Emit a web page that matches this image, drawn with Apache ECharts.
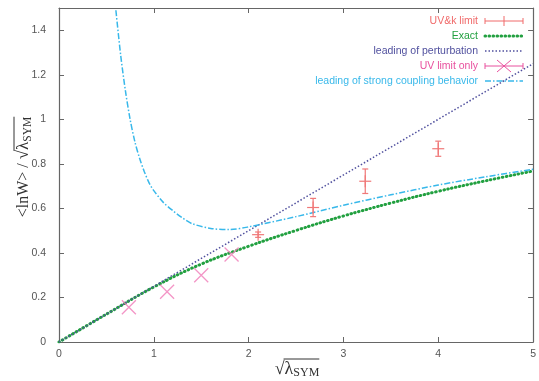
<!DOCTYPE html>
<html lang="en">
<head>
    <meta charset="UTF-8">
    <script src="https://cdn.jsdelivr.net/npm/echarts@6/dist/echarts.min.js"></script>
    <title>Wilson loop</title>
    <style>
        html, body { margin: 0; padding: 0; background: #fff; }
        #chart { width: 539px; height: 381px; }
    </style>
</head>
<body>
<div id="chart"></div>
<script type="text/javascript">
    // x axis values are sqrt(lambda_SYM)
    var xTicks = [0, 1, 2, 3, 4, 5];
    var yTicks = [0, 0.2, 0.4, 0.6, 0.8, 1, 1.2, 1.4];

    // UV&k limit (points with y error bars)
    var uvkX = [2.10, 2.68, 3.23, 4.00];
    var uvkY = [0.482, 0.604, 0.722, 0.868];
    var uvkErr = [0.012, 0.041, 0.055, 0.034];

    // UV limit only
    var uvX = [0.737, 1.14, 1.50, 1.82];
    var uvY = [0.156, 0.226, 0.300, 0.393];

    // Exact
    var exactX = [0, 0.5, 1, 1.5, 2, 2.5, 3, 3.5, 4, 4.5, 5];
    var exactY = [0, 0.125, 0.247, 0.350, 0.430, 0.501, 0.566, 0.624, 0.677, 0.724, 0.768];

    // leading of perturbation
    var pertX = [0, 5];
    var pertY = [0, 1.25];

    // leading of strong coupling behavior
    var strongX = [0.6, 0.65, 0.7, 0.75, 0.8, 0.85, 0.9, 0.95, 1.0, 1.1, 1.2, 1.3, 1.4, 1.6, 1.8, 2.0, 2.5, 3, 3.5, 4, 4.5, 5];
    var strongY = [1.49, 1.29, 1.13, 1.0, 0.90, 0.825, 0.765, 0.715, 0.68, 0.627, 0.59, 0.558, 0.532, 0.510, 0.505, 0.517, 0.563, 0.614, 0.661, 0.705, 0.742, 0.776];

    var sans = '"Liberation Sans", Arial, sans-serif';
    var serif = '"Liberation Serif", "Times New Roman", serif';

    function zip(xs, ys) {
        var d = [];
        for (var i = 0; i < xs.length; i++) d.push([xs[i], ys[i]]);
        return d;
    }

    var ctx = document.createElement('canvas').getContext('2d');
    function textWidth(t, size) {
        ctx.font = size + 'px "Liberation Serif"';
        return ctx.measureText(t).width;
    }

    // pieces of a math title laid out left to right, centred on 0
    function titleParts(parts, barFrom, barY) {
        var els = [], x = 0, barStart = 0;
        var total = 0;
        parts.forEach(function (p) { total += textWidth(p.t, p.size); });
        x = -total / 2;
        parts.forEach(function (p, i) {
            if (i === barFrom) barStart = x;
            els.push({
                type: 'text', x: x, y: p.dy,
                style: {
                    text: p.t, fontSize: p.size, fontFamily: serif, fill: '#333',
                    textAlign: 'left', textVerticalAlign: 'middle', align: 'left', verticalAlign: 'middle'
                }
            });
            x += textWidth(p.t, p.size);
        });
        els.push({
            type: 'line', shape: {x1: barStart - 1, y1: barY, x2: x, y2: barY},
            style: {stroke: '#333', lineWidth: 1}
        });
        return els;
    }

    var xTitle = titleParts([
        {t: '\u221A', size: 18, dy: 0},
        {t: '\u03BB', size: 18, dy: 0},
        {t: 'SYM', size: 12, dy: 4}
    ], 1, -10);

    var yTitle = titleParts([
        {t: '<lnW> / ', size: 16, dy: 0},
        {t: '\u221A', size: 17, dy: 0},
        {t: '\u03BB', size: 17, dy: 0},
        {t: 'SYM', size: 11.5, dy: 4}
    ], 2, -10);

    // legend rows (right aligned text, sample on the right)
    var legendRows = [
        {name: 'UV&k limit', color: '#f06a6a', y: 21},
        {name: 'Exact', color: '#22a040', y: 36},
        {name: 'leading of perturbation', color: '#50509e', y: 51},
        {name: 'UV limit only', color: '#e8509e', y: 66},
        {name: 'leading of strong coupling behavior', color: '#38b8ea', y: 81}
    ];
    var lx1 = 485, lx2 = 523, lxm = 504, ltext = 478;
    var legendEls = [];
    legendRows.forEach(function (r) {
        legendEls.push({
            type: 'text', x: ltext, y: r.y,
            style: {
                text: r.name, fontSize: 10.5, fontFamily: sans, fill: r.color,
                textAlign: 'right', textVerticalAlign: 'middle', align: 'right', verticalAlign: 'middle'
            }
        });
    });
    function seg(x1, y1, x2, y2, st) {
        return {type: 'line', shape: {x1: x1, y1: y1, x2: x2, y2: y2}, style: st};
    }
    var r0 = legendRows[0], r1 = legendRows[1], r2 = legendRows[2], r3 = legendRows[3], r4 = legendRows[4];
    var st0 = {stroke: r0.color, lineWidth: 1};
    legendEls.push(seg(lx1, r0.y, lx2, r0.y, st0), seg(lx1, r0.y - 3, lx1, r0.y + 3, st0),
        seg(lx2, r0.y - 3, lx2, r0.y + 3, st0), seg(lxm, r0.y - 5, lxm, r0.y + 5, st0));
    legendEls.push(seg(lx1, r1.y, lx2, r1.y, {stroke: r1.color, lineWidth: 3, lineDash: [0.6, 3.4], lineCap: 'round'}));
    legendEls.push(seg(lx1, r2.y, lx2, r2.y, {stroke: r2.color, lineWidth: 1.5, lineDash: [1.5, 2]}));
    var st3 = {stroke: r3.color, lineWidth: 1};
    legendEls.push(seg(lx1, r3.y, lx2, r3.y, st3), seg(lx1, r3.y - 3, lx1, r3.y + 3, st3),
        seg(lx2, r3.y - 3, lx2, r3.y + 3, st3),
        seg(lxm - 7, r3.y - 6, lxm + 7, r3.y + 6, st3), seg(lxm - 7, r3.y + 6, lxm + 7, r3.y - 6, st3));
    legendEls.push(seg(lx1, r4.y, lx2, r4.y, {stroke: r4.color, lineWidth: 1.5, lineDash: [6, 2, 1.5, 2]}));

    var axisColor = '#666';
    function axisBase(pos, showLabel) {
        return {
            type: 'value',
            position: pos,
            axisLine: {show: true, onZero: false, lineStyle: {color: axisColor, width: 1.2}},
            axisTick: {show: true, inside: true, length: 5, lineStyle: {color: axisColor, width: 1}},
            axisLabel: {show: showLabel, color: '#555', fontSize: 10.5, fontFamily: sans},
            splitLine: {show: false}
        };
    }
    var xBottom = axisBase('bottom', true);
    xBottom.min = xTicks[0]; xBottom.max = xTicks[xTicks.length - 1]; xBottom.interval = 1;
    xBottom.axisLabel.margin = 7;
    var xTop = axisBase('top', false);
    xTop.min = xBottom.min; xTop.max = xBottom.max; xTop.interval = 1;
    var yLeft = axisBase('left', true);
    yLeft.min = 0; yLeft.max = 1.5; yLeft.interval = 0.2;
    yLeft.axisLabel.margin = 13;
    yLeft.axisLabel.formatter = function (v) {
        return yTicks.indexOf(Math.round(v * 10) / 10) >= 0 ? String(Math.round(v * 10) / 10) : '';
    };
    var yRight = axisBase('right', false);
    yRight.min = 0; yRight.max = 1.5; yRight.interval = 0.2;

    var uvkData = [];
    for (var i = 0; i < uvkX.length; i++) uvkData.push([uvkX[i], uvkY[i], uvkErr[i]]);

    var myChart = echarts.init(document.getElementById('chart'), null, {renderer: 'canvas'});
    var option = {
        animation: false,
        grid: {left: 59, right: 5, top: 8, bottom: 39, containLabel: false},
        xAxis: [xBottom, xTop],
        yAxis: [yLeft, yRight],
        series: [
            {
                name: 'UV&k limit',
                type: 'custom',
                data: uvkData,
                renderItem: function (params, api) {
                    var x = api.value(0), y = api.value(1), e = api.value(2);
                    var c = api.coord([x, y]);
                    var hi = api.coord([x, y + e]);
                    var lo = api.coord([x, y - e]);
                    var st = {stroke: '#f07878', lineWidth: 1.2, fill: null};
                    var cap = 3, half = 6;
                    return {
                        type: 'group',
                        children: [
                            {type: 'line', shape: {x1: c[0], y1: hi[1], x2: c[0], y2: lo[1]}, style: st},
                            {type: 'line', shape: {x1: c[0] - cap, y1: hi[1], x2: c[0] + cap, y2: hi[1]}, style: st},
                            {type: 'line', shape: {x1: c[0] - cap, y1: lo[1], x2: c[0] + cap, y2: lo[1]}, style: st},
                            {type: 'line', shape: {x1: c[0] - half, y1: c[1], x2: c[0] + half, y2: c[1]}, style: st},
                            {type: 'line', shape: {x1: c[0], y1: c[1] - half, x2: c[0], y2: c[1] + half}, style: st}
                        ]
                    };
                },
                z: 3
            },
            {
                name: 'Exact',
                type: 'line',
                data: zip(exactX, exactY),
                smooth: 0.4,
                symbol: 'none',
                lineStyle: {color: '#22a040', width: 3, type: [0.6, 3.4], cap: 'round'},
                z: 2
            },
            {
                name: 'leading of perturbation',
                type: 'line',
                data: zip(pertX, pertY),
                symbol: 'none',
                lineStyle: {color: '#50509e', width: 1.5, type: [1.5, 2]},
                z: 2
            },
            {
                name: 'UV limit only',
                type: 'scatter',
                data: zip(uvX, uvY),
                symbol: 'path://M0,0L10,10M10,0L0,10',
                symbolSize: 14,
                itemStyle: {color: 'transparent', borderColor: '#f07ab8', borderWidth: 1.3},
                z: 3
            },
            {
                name: 'leading of strong coupling behavior',
                type: 'line',
                data: zip(strongX, strongY),
                smooth: 0.3,
                symbol: 'none',
                lineStyle: {color: '#38b8ea', width: 1.5, type: [6, 2, 1.5, 2]},
                z: 2
            }
        ],
        graphic: [
            {type: 'group', x: 297, y: 369, children: xTitle},
            {type: 'group', x: 24, y: 167, rotation: Math.PI / 2, children: yTitle},
            {type: 'group', children: legendEls}
        ]
    };
    myChart.setOption(option);
</script>
</body>
</html>
